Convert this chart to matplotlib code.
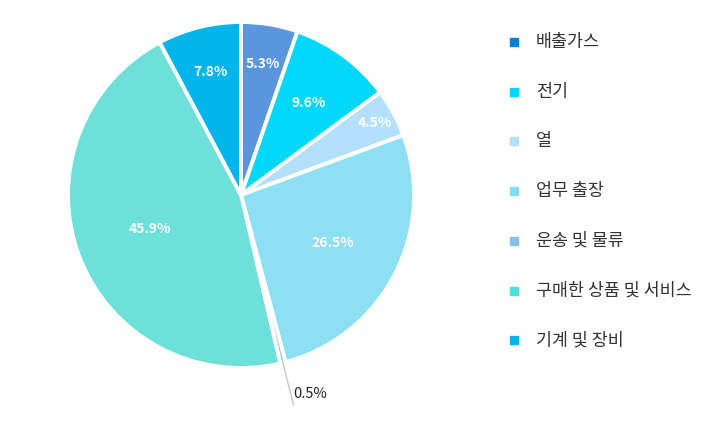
import numpy as np
import matplotlib.pyplot as plt
from matplotlib.patches import Rectangle

plt.rcParams['font.family'] = ['Noto Sans CJK KR', 'DejaVu Sans']

categories = ['배출가스', '전기', '열', '업무 출장', '운송 및 물류', '구매한 상품 및 서비스', '기계 및 장비']
values = [5.3, 9.6, 4.5, 26.5, 0.5, 45.9, 7.8]
slice_colors = ['#5b96dc', '#00d8fb', '#b3e0fc', '#8ddff3', '#8ac0e8', '#6ee0da', '#00b5ea']
legend_colors = ['#0a7fd6', '#00d8ff', '#b3e0fc', '#7fe0f3', '#8ac0e8', '#4ddfd8', '#00b4ec']
label_radius = [0.77, 0.66, 0.88, 0.6, 1.2, 0.56, 0.73]

W, H = 725, 424
fig = plt.figure(figsize=(W / 100, H / 100), dpi=100)
cx, cy, r = 241, 195, 173
ax = fig.add_axes([(cx - r) / W, (H - cy - r) / H, 2 * r / W, 2 * r / H])

wedges, _ = ax.pie(values, colors=slice_colors, startangle=90, counterclock=False,
                   radius=1, wedgeprops=dict(edgecolor='white', linewidth=2.8))
ax.set_xlim(-1, 1)
ax.set_ylim(-1, 1)
ax.set_aspect('equal')
ax.axis('off')

for w, v, lr in zip(wedges, values, label_radius):
    ang = np.deg2rad((w.theta1 + w.theta2) / 2)
    if v < 1:
        x0, y0 = np.cos(ang) * 0.99, np.sin(ang) * 0.99
        x1, y1 = np.cos(ang) * 1.25, np.sin(ang) * 1.25
        ax.plot([x0, x1], [y0, y1], color='#c8c8c8', linewidth=1, clip_on=False)
        ax.text(x1 + 0.0, y1 + 0.06, f'{v}%', ha='left', va='center', fontsize=10.5,
                color='#222222', clip_on=False)
    else:
        ax.text(np.cos(ang) * lr, np.sin(ang) * lr, f'{v}%', ha='center', va='center',
                fontsize=10, color='white', fontweight='bold')

# legend
for i, (cat, col) in enumerate(zip(categories, legend_colors)):
    y = 42 + i * 49.7
    fig.add_artist(Rectangle((510 / W, (H - y - 4) / H), 8 / W, 8 / H,
                             transform=fig.transFigure, color=col))
    fig.text(536 / W, (H - y) / H, cat, ha='left', va='center', fontsize=12.5, color='#333333')

fig.savefig('out.png', dpi=100)
